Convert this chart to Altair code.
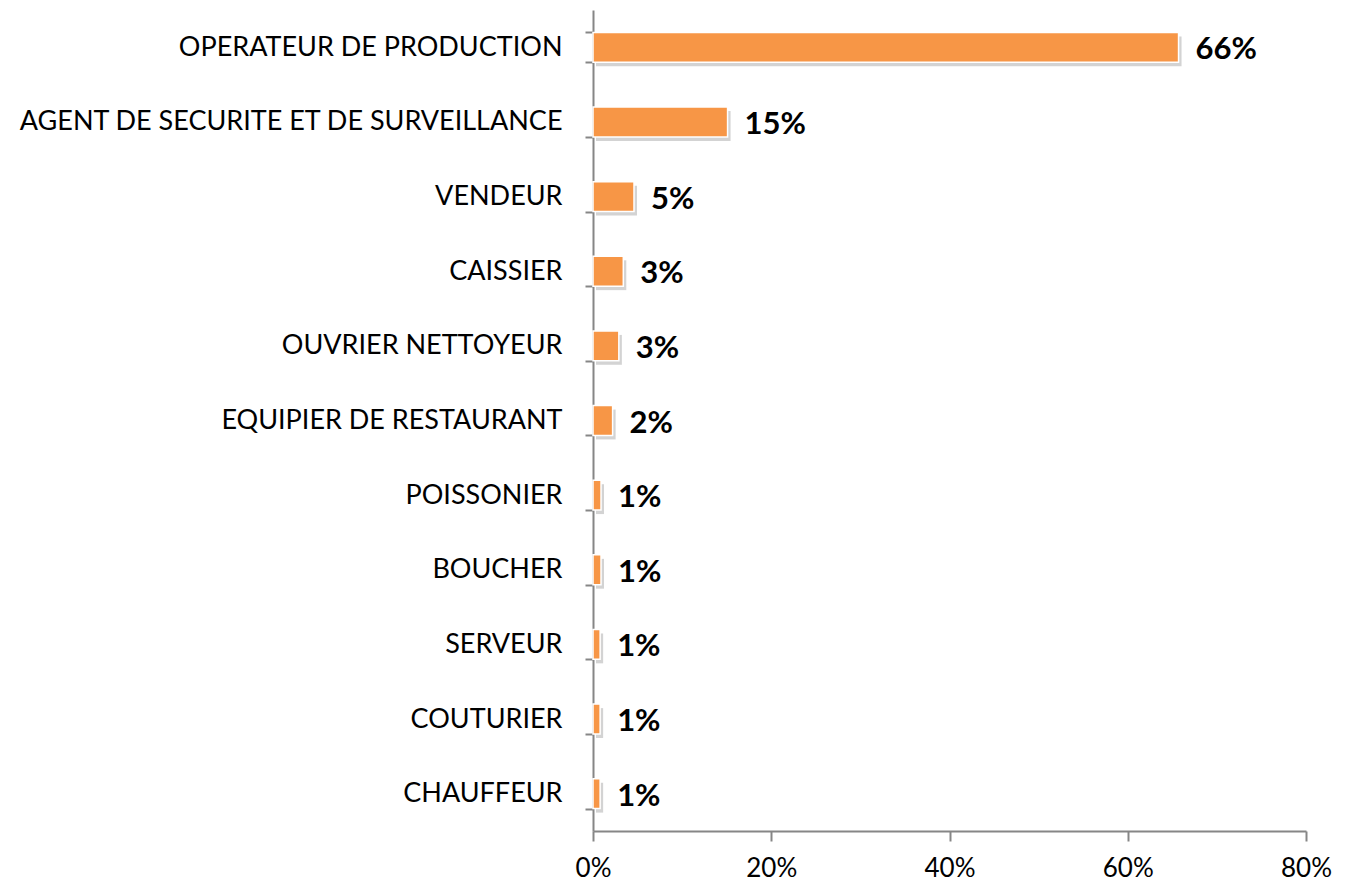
import altair as alt
import pandas as pd

categories = [
    "OPERATEUR DE PRODUCTION",
    "AGENT DE SECURITE ET DE SURVEILLANCE",
    "VENDEUR",
    "CAISSIER",
    "OUVRIER NETTOYEUR",
    "EQUIPIER DE RESTAURANT",
    "POISSONIER",
    "BOUCHER",
    "SERVEUR",
    "COUTURIER",
    "CHAUFFEUR",
]
values = [0.657, 0.151, 0.046, 0.034, 0.029, 0.022, 0.009, 0.009, 0.008, 0.008, 0.008]
x_ticks = [0, 0.2, 0.4, 0.6, 0.8]

df = pd.DataFrame({"job": categories, "share": values})

FONT = "Lato"
AXIS_COLOR = "#868686"

y_enc = alt.Y(
    "job:N",
    sort=categories,
    scale=alt.Scale(paddingInner=0.6, paddingOuter=0.3),
    axis=alt.Axis(
        title=None,
        tickBand="extent",
        tickSize=8,
        tickColor=AXIS_COLOR,
        tickWidth=2,
        domainColor=AXIS_COLOR,
        domainWidth=2,
        labelFont=FONT,
        labelFontSize=27,
        labelColor="#000000",
        labelPadding=23,
        labelLimit=700,
    ),
)
x_enc = alt.X(
    "share:Q",
    scale=alt.Scale(domain=[0, 0.8], nice=False),
    axis=alt.Axis(
        title=None,
        values=x_ticks,
        format=".0%",
        grid=False,
        labelFlush=False,
        tickSize=10,
        tickColor=AXIS_COLOR,
        tickWidth=2,
        domainColor=AXIS_COLOR,
        domainWidth=2,
        labelFont=FONT,
        labelFontSize=26,
        labelColor="#000000",
        labelPadding=14,
    ),
)

shadow = alt.Chart(df).mark_bar(
    color="#b5b5b5", opacity=0.6, xOffset=3, yOffset=4
).encode(x=x_enc, y=y_enc)

bars = alt.Chart(df).mark_bar(
    color="#F79646", stroke="#ffffff", strokeWidth=1.5
).encode(x=x_enc, y=y_enc)

labels = alt.Chart(df).mark_text(
    align="left", baseline="middle", dx=17, dy=3,
    font=FONT, fontSize=31, fontWeight="bold", color="#000000"
).encode(
    x=x_enc, y=y_enc, text=alt.Text("share:Q", format=".0%")
)

chart = (
    alt.layer(shadow, bars, labels)
    .properties(
        width=713,
        height=821,
        autosize=alt.AutoSizeParams(type="none"),
        padding={"left": 585, "top": 2, "right": 30, "bottom": 60},
        background="#ffffff",
    )
    .configure_view(stroke="transparent", strokeWidth=0)
)

chart.save("out.html", embed_options={"renderer": "svg", "actions": False})
